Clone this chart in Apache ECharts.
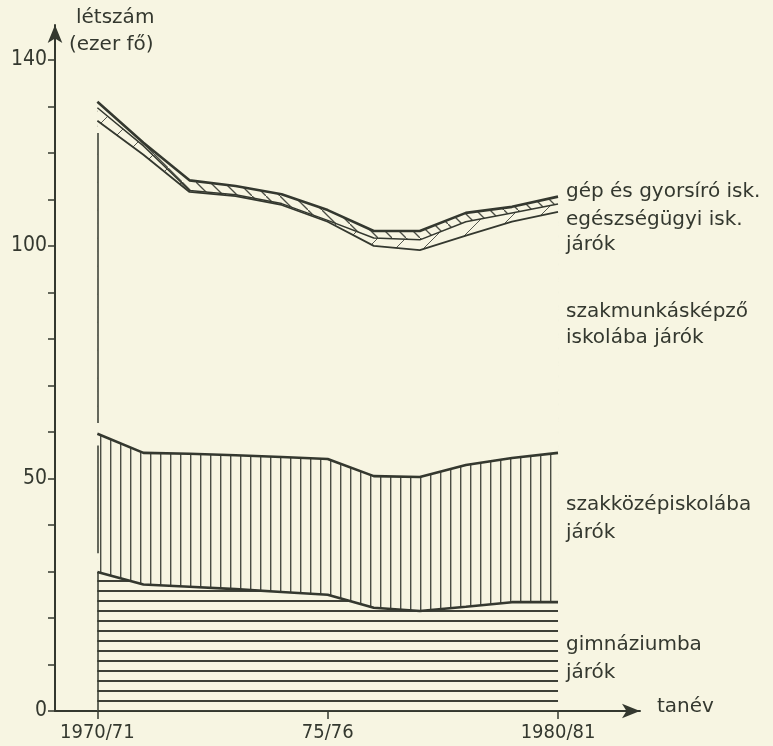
<!DOCTYPE html>
<html>
<head>
<meta charset="utf-8">
<script src="https://cdn.jsdelivr.net/npm/echarts@6/dist/echarts.min.js"></script>
<style>
html,body{margin:0;padding:0;background:#f7f5e2;}
#c{width:773px;height:746px;}
</style>
</head>
<body>
<div id="c"></div>
<script>
// ---- data (ezer fő) ----
const years = ['1970/71','1971/72','1972/73','1973/74','1974/75','1975/76','1976/77','1977/78','1978/79','1979/80','1980/81'];
const xTickLabels = ['1970/71','75/76','1980/81'];
const xTickIndex = [0, 5, 10];
const yTickLabels = [0, 50, 100, 140];
const gimnazium      = [29.9, 27.2, 26.7, 26.2, 25.6, 25.0, 22.2, 21.5, 22.4, 23.4, 23.4];
const szakkozep      = [29.7, 28.3, 28.6, 28.8, 29.0, 29.2, 28.3, 28.8, 30.5, 31.0, 32.1];
const szakmunkas     = [67.3, 64.1, 56.3, 55.7, 54.2, 51.0, 49.5, 48.8, 49.3, 50.8, 51.8];
const egeszsegugyi   = [2.8, 1.9, 0.3, 0.3, 0.3, 0.3, 1.7, 2.2, 3.0, 1.9, 1.7];
const gepGyorsiro    = [1.3, 0.7, 2.2, 1.9, 2.0, 2.2, 1.5, 1.9, 1.9, 1.3, 1.6];

const BG = '#f7f5e2';
const INK = '#34382f';
const FONT = 'DejaVu Sans';
const NUMFONT = '"DejaVu Sans Condensed", "Liberation Sans Narrow", "DejaVu Sans"';

function pattern(w, h, draw) {
  const c = document.createElement('canvas');
  c.width = w; c.height = h;
  const g = c.getContext('2d');
  g.fillStyle = BG; g.fillRect(0, 0, w, h);
  draw(g, w, h);
  return { image: c, repeat: 'repeat' };
}
const hLines = pattern(10, 10, (g) => { g.fillStyle = '#3d4037'; g.fillRect(0, 0, 10, 2); });
const vLines = pattern(10, 10, (g) => { g.fillStyle = '#4a4d44'; g.fillRect(0, 0, 1.4, 10); });
const blank = pattern(4, 4, () => {});
const diag = pattern(14, 14, (g) => {
  g.strokeStyle = '#4a4d44'; g.lineWidth = 1.3;
  g.beginPath(); g.moveTo(-2, -2); g.lineTo(16, 16); g.stroke();
});
const diagSparse = pattern(28, 28, (g) => {
  g.strokeStyle = '#55584f'; g.lineWidth = 1;
  g.beginPath(); g.moveTo(-2, 30); g.lineTo(30, -2); g.stroke();
});

// cumulative (stacked) tops, built from the named arrays
const layers = [gimnazium, szakkozep, szakmunkas, egeszsegugyi, gepGyorsiro];
const tops = [];
layers.forEach((arr, k) => {
  tops.push(arr.map((v, i) => (k ? tops[k - 1][i] : 0) + v));
});
const pairs = (arr) => arr.map((v, i) => [i, v]);

function leftEdge(a, b) {
  return {
    silent: true, symbol: 'none', animation: false,
    label: { show: false },
    lineStyle: { color: INK, width: 1.5, type: 'solid' },
    data: [[{ coord: [0, a] }, { coord: [0, b] }]]
  };
}

const names = ['gimnáziumba járók', 'szakközépiskolába járók', 'szakmunkásképző iskolába járók', 'egészségügyi isk. járók', 'gép és gyorsíró isk.'];
const fills = [hLines, vLines, blank, diagSparse, diag];
const widths = [2.6, 2.6, 1.8, 1.5, 2.6];

const series = [];
// areas: top layer first, each filled down to 0 with an opaque pattern
for (let k = layers.length - 1; k >= 0; k--) {
  series.push({
    name: names[k] + ' (terület)', type: 'line', data: pairs(tops[k]),
    showSymbol: false, symbol: 'none', lineStyle: { width: 0 },
    areaStyle: { color: fills[k], opacity: 1, origin: 'start' },
    emphasis: { disabled: true }, silent: true, animation: false, z: 1
  });
}
// outlines on top
const edges = [
  leftEdge(0, tops[0][0]),
  leftEdge(tops[0][0] + 4, tops[1][0] - 2.5),
  leftEdge(tops[1][0] + 2.3, tops[2][0] - 2.6),
  null, null
];
for (let k = 0; k < layers.length; k++) {
  const s = {
    name: names[k], type: 'line', data: pairs(tops[k]),
    showSymbol: false, symbol: 'none',
    lineStyle: { color: INK, width: widths[k] },
    emphasis: { disabled: true }, silent: true, animation: false, z: 3
  };
  if (edges[k]) s.markLine = edges[k];
  series.push(s);
}

function label(text, x, y) {
  return { type: 'text', x, y, style: { text, fontFamily: FONT, fontSize: 20, fill: INK, verticalAlign: 'middle', align: 'left' } };
}

const chart = echarts.init(document.getElementById('c'), null, { renderer: 'canvas' });
chart.setOption({
  backgroundColor: BG,
  grid: { left: 55, right: 133, top: 25, bottom: 35 },
  xAxis: {
    type: 'value', min: -0.92, max: 11.78,
    axisLine: { onZero: false, lineStyle: { color: INK, width: 2 }, symbol: ['none', 'arrow'], symbolSize: [11, 18] },
    axisTick: { customValues: xTickIndex, length: 8, inside: false, lineStyle: { color: INK, width: 1.5 } },
    axisLabel: {
      customValues: xTickIndex, margin: 12, color: INK, fontFamily: NUMFONT, fontSize: 20,
      formatter: (v) => xTickLabels[xTickIndex.indexOf(Math.round(v))] || ''
    },
    splitLine: { show: false }
  },
  yAxis: {
    type: 'value', min: 0, max: 147.5,
    axisLine: { onZero: false, lineStyle: { color: INK, width: 2 }, symbol: ['none', 'arrow'], symbolSize: [11, 18] },
    axisTick: { customValues: [0,10,20,30,40,50,60,70,80,90,100,110,120,130,140], length: 7, lineStyle: { color: INK, width: 1.5 } },
    axisLabel: { customValues: yTickLabels, margin: 8, color: INK, fontFamily: NUMFONT, fontSize: 21 },
    splitLine: { show: false }
  },
  series,
  graphic: [
    label('létszám', 76, 18),
    label('(ezer fő)', 69, 45),
    label('gép és gyorsíró isk.', 566, 192),
    label('egészségügyi isk.', 566, 220),
    label('járók', 566, 245),
    label('szakmunkásképző', 566, 312),
    label('iskolába járók', 566, 338),
    label('szakközépiskolába', 566, 505),
    label('járók', 566, 533),
    label('gimnáziumba', 566, 645),
    label('járók', 566, 673),
    label('tanév', 657, 707)
  ]
});
</script>
</body>
</html>
